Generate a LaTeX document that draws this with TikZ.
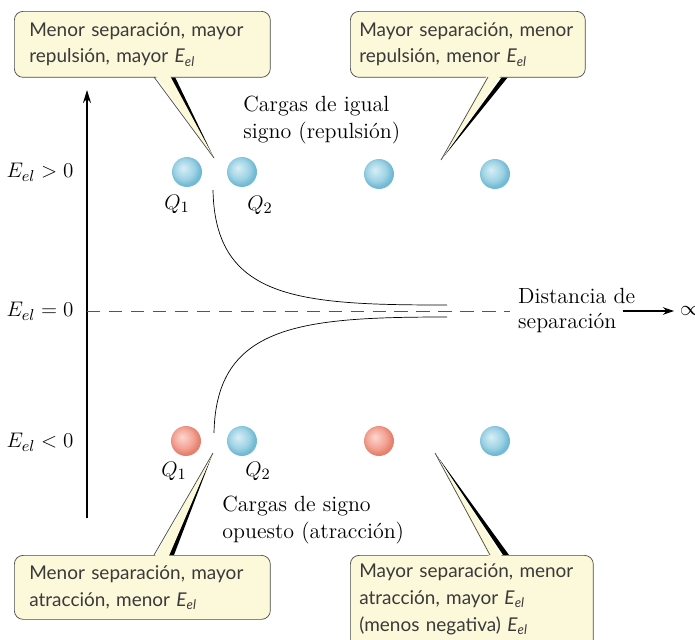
\documentclass[tikz,border=0pt]{standalone}
\usepackage{fontspec}
\newfontfamily\notefont{Lato}
\usetikzlibrary{arrows.meta}
\definecolor{CNote}{HTML}{FCF8DA}
\definecolor{CEdge}{HTML}{4A4A4A}
\definecolor{CText}{HTML}{3A3A3A}
\definecolor{CDash}{HTML}{555555}
\definecolor{CBlueL}{HTML}{D8EFF6}
\definecolor{CBlue}{HTML}{9DD2E4}
\definecolor{CBlueD}{HTML}{72BAD3}
\definecolor{CRedL}{HTML}{FCD8CF}
\definecolor{CRed}{HTML}{F3A293}
\definecolor{CRedD}{HTML}{E4826F}
\pgfdeclareradialshading{blueball}{\pgfpoint{-7bp}{7bp}}{color(0bp)=(CBlueL); color(17bp)=(CBlue); color(25bp)=(CBlueD); color(50bp)=(CBlueD)}
\pgfdeclareradialshading{redball}{\pgfpoint{-7bp}{7bp}}{color(0bp)=(CRedL); color(17bp)=(CRed); color(25bp)=(CRedD); color(50bp)=(CRedD)}
\newcommand{\Eel}{\textit{E}\textsubscript{\textit{el}}}

\begin{document}
\begin{tikzpicture}[
  x=0.02cm,y=-0.02cm,
  every node/.style={font=\fontsize{12.5}{15}\selectfont},
  note/.style={draw=CEdge,fill=CNote,rounded corners=5pt,anchor=north west,
    font=\notefont\fontsize{10.8}{15.2}\selectfont,text=CText,align=left,
    inner ysep=5pt},
  charge/.style={circle,minimum size=0.6cm,inner sep=0pt},
  cblue/.style={charge,shading=blueball},
  cred/.style={charge,shading=redball},
  arr/.style={-{Stealth[length=2.6mm,width=1.6mm]},line width=1.1pt},
  arrs/.style={-{Stealth[length=2.2mm,width=1.5mm]},semithick}
]
  \useasboundingbox (0,0) rectangle (695,639);

  % axis and zero line
  \coordinate (axbot) at (87,518);
  \coordinate (axtop) at (87,90);
  \coordinate (z0) at (87,311);
  \coordinate (z1) at (510,311);
  \draw[arr] (axbot) -- (axtop);
  \draw[CDash,dash pattern=on 7.5pt off 5pt,thin] (z0) -- (z1);

  \node (epos) at (40,172) {$E_{el} > 0$};
  \node (ezero) at (40,311) {$E_{el} = 0$};
  \node (eneg) at (40,442) {$E_{el} < 0$};

  \node[anchor=west] (distA) at (512,296) {Distancia de};
  \node[anchor=west] (distB) at (512,323) {separación};
  \node[anchor=west] (inf) at (674,311) {$\infty$};
  \draw[arrs] (distB.east |- z1) -- (inf.west |- z1);

  % charges
  \node[cblue] (a1) at (187,172) {};
  \node[cblue] (a2) at (242,172) {};
  \node[cblue] (a3) at (379,174) {};
  \node[cblue] (a4) at (495,174) {};
  \node[cred] (b1) at (186,441) {};
  \node[cblue] (b2) at (242,441) {};
  \node[cred] (b3) at (379,441) {};
  \node[cblue] (b4) at (495,441) {};
  \node (qa1) at (177,204) {$Q_1$};
  \node (qa2) at (260,205) {$Q_2$};
  \node (qb1) at (174,471) {$Q_1$};
  \node (qb2) at (258,471) {$Q_2$};

  \node[anchor=north west,align=left,inner sep=0pt] (same) at (243,96)
    {Cargas de igual\\signo (repulsión)};
  \node[anchor=north west,align=left,inner sep=0pt] (opp) at (222,496)
    {Cargas de signo\\opuesto (atracción)};

  % energy curves
  \draw (213,190) .. controls (215,300) and (300,305) .. (447,305);
  \draw (447,317) .. controls (300,317) and (216,325) .. (214,433);

  % callouts
  \coordinate (t1) at (214,158);
  \coordinate (t2) at (441,160);
  \coordinate (t3) at (213,453);
  \coordinate (t4) at (435,453);
  \foreach \t/\b/\y in {t1/169/77,t2/502/77,t3/168/555,t4/503/555}
    {\fill[black] (\t) -- (\b,\y) -- (\b+6,\y) -- cycle;}

  \node[note,text width=4.52cm,inner xsep=0.3cm,minimum height=1.32cm] (n1) at (14,11)
    {Menor separación, mayor\\repulsión, mayor \Eel};
  \node[note,text width=4.34cm,inner xsep=0.18cm,minimum height=1.32cm] (n2) at (350,11)
    {Mayor separación, menor\\repulsión, menor \Eel};
  \node[note,text width=4.52cm,inner xsep=0.3cm,minimum height=1.28cm] (n3) at (14,555)
    {Menor separación, mayor\\atracción, menor \Eel};
  \node[note,text width=4.5cm,inner xsep=0.18cm] (n4) at (350,555)
    {Mayor separación, menor\\atracción, mayor \Eel\\(menos negativa) \Eel\\[-6pt]\strut};

  \foreach \t/\a/\b/\y/\yin in {t1/154/169/77/74,t2/488/502/77/74,t3/154/168/555/558,t4/490/503/555/558}
    {\fill[CNote] (\t) -- (\a,\yin) -- (\b,\yin) -- cycle;
     \draw[CEdge,thin] (\a,\y) -- (\t);}
\end{tikzpicture}
\end{document}
